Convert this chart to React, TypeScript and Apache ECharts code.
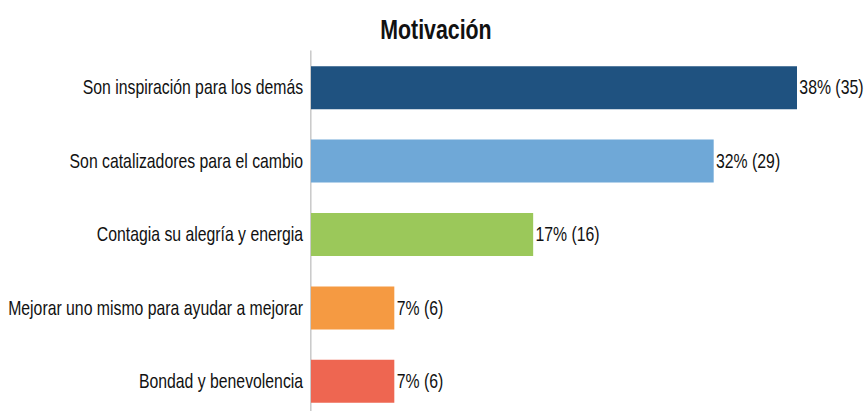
import React, { useEffect, useRef } from "react";
import * as echarts from "echarts";

const categories = [
  "Son inspiración para los demás",
  "Son catalizadores para el cambio",
  "Contagia su alegría y energia",
  "Mejorar uno mismo para ayudar a mejorar",
  "Bondad y benevolencia",
];
const counts = [35, 29, 16, 6, 6];
const percents = [38, 32, 17, 7, 7];
const colors = ["#1f5280", "#6fa8d7", "#9bc85a", "#f59a42", "#ee6651"];
const title = "Motivación";

const FONT = "'Liberation Sans', Arial, Helvetica, sans-serif";
// The reference typography is horizontally condensed; render wider and squeeze.
const SX = 0.79;
const W = 865 / SX;
const H = 411;

export default function App() {
  const ref = useRef<HTMLDivElement>(null);
  useEffect(() => {
    if (!ref.current) return;
    const chart = echarts.init(ref.current, undefined, { renderer: "svg" });
    chart.setOption({
      animation: false,
      title: {
        text: title,
        left: 432 / SX,
        textAlign: "center",
        top: 11,
        textStyle: { fontFamily: FONT, fontSize: 27, fontWeight: "bold", color: "#111" },
      },
      grid: {
        left: 311 / SX,
        top: 51,
        width: (797 - 311) / SX,
        height: 367,
        containLabel: false,
        outerBoundsMode: "none",
      },
      xAxis: {
        type: "value",
        min: 0,
        max: 35,
        show: false,
        splitLine: { show: false },
      },
      yAxis: {
        type: "category",
        data: categories,
        inverse: true,
        axisLine: { show: true, lineStyle: { color: "#b0b0b0", width: 1.3 } },
        axisTick: { show: false },
        axisLabel: { fontFamily: FONT, fontSize: 20, color: "#111", margin: 10 },
      },
      series: [
        {
          type: "bar",
          data: counts.map((v, i) => ({ value: v, itemStyle: { color: colors[i] } })),
          barWidth: 43,
          label: {
            show: true,
            position: "right",
            distance: 3,
            fontFamily: FONT,
            fontSize: 20,
            color: "#111",
            formatter: (p: any) => `${percents[p.dataIndex]}% (${counts[p.dataIndex]})`,
          },
        },
      ],
    });
    return () => chart.dispose();
  }, []);
  return (
    <div style={{ position: "absolute", left: 0, top: 0, width: 865, height: H, overflow: "hidden", background: "#fff" }}>
      <div
        ref={ref}
        style={{ width: W, height: H, transform: `scaleX(${SX})`, transformOrigin: "0 0" }}
      />
    </div>
  );
}
